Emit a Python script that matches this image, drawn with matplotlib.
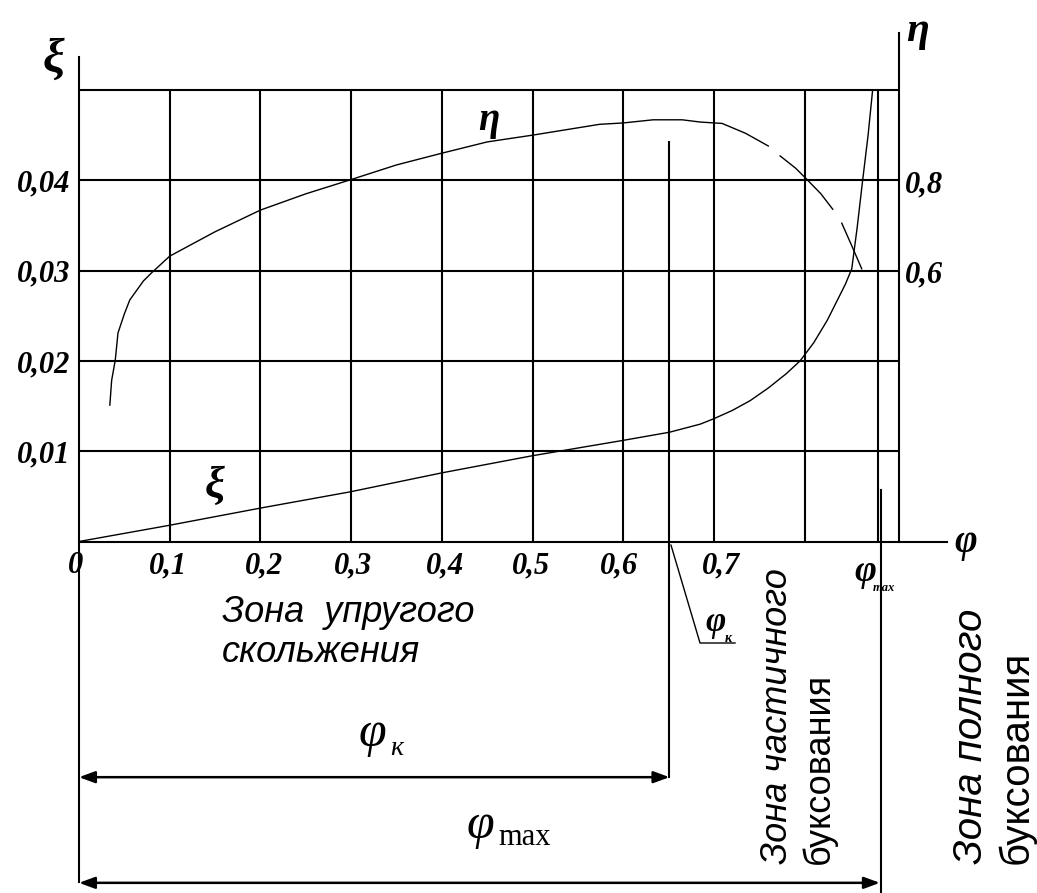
import numpy as np
import matplotlib
matplotlib.use("Agg")
import matplotlib.pyplot as plt

# ---------------- data ----------------
phi_ticks = [0.1, 0.2, 0.3, 0.4, 0.5, 0.6, 0.7, 0.8]
xi_ticks = [0.01, 0.02, 0.03, 0.04, 0.05]
xi_tick_labels = ["0,01", "0,02", "0,03", "0,04"]
eta_tick_values = [0.6, 0.8]
eta_tick_labels = ["0,6", "0,8"]
x_tick_labels = ["0", "0,1", "0,2", "0,3", "0,4", "0,5", "0,6", "0,7"]
x_tick_pos = [-0.004, 0.098, 0.204, 0.302, 0.403, 0.498, 0.595, 0.708]

phi_k = 0.651      # boundary of elastic slip zone
phi_max = 0.884    # boundary of full slipping
phi_grid_max = 0.881
phi_right_axis = 0.904

# slip coefficient xi(phi)
phi_xi = [0.0, 0.100, 0.200, 0.299, 0.400, 0.500, 0.600, 0.651, 0.685, 0.700,
          0.720, 0.740, 0.760, 0.780, 0.795, 0.810, 0.825, 0.836, 0.845, 0.852,
          0.858, 0.864, 0.870, 0.875]
xi = [0.0, 0.0018, 0.0037, 0.0055, 0.0076, 0.0095, 0.0112, 0.0121, 0.0130, 0.0136,
      0.0145, 0.0156, 0.0170, 0.0186, 0.0200, 0.0220, 0.0245, 0.0267, 0.0285, 0.0302,
      0.0348, 0.0400, 0.0450, 0.0500]

# efficiency eta(phi)  (NaN = gap in the drawn line)
phi_eta = [0.034, 0.036, 0.040, 0.043, 0.050, 0.056, 0.071, 0.080, 0.100, 0.150,
           0.200, 0.250, 0.299, 0.350, 0.400, 0.450, 0.500, 0.574, 0.600, 0.633,
           0.665, 0.685, 0.709, 0.735, 0.760, np.nan, 0.773, 0.790, 0.803, 0.818,
           0.831, np.nan, 0.841, 0.852, 0.863]
eta = [0.302, 0.357, 0.402, 0.462, 0.504, 0.535, 0.577, 0.595, 0.632, 0.686,
       0.734, 0.770, 0.801, 0.834, 0.860, 0.885, 0.900, 0.924, 0.927, 0.934,
       0.934, 0.929, 0.926, 0.904, 0.876, np.nan, 0.854, 0.827, 0.801, 0.770,
       0.736, np.nan, 0.705, 0.655, 0.604]

# ---------------- figure ----------------
fig = plt.figure(figsize=(10.37, 8.93), dpi=100)
ax = fig.add_axes([0, 0, 1, 1])
ax.set_xlim(-79 / 907, 958 / 907)
ax.set_ylim(-351.5 / 9030, 541.5 / 9030)
ax2 = ax.twinx()
ax2.set_ylim(-351.5 / 451.5, 541.5 / 451.5)
for a in (ax, ax2):
    a.set_axis_off()

k = "black"
glw = 1.5

# grid
ax.hlines(xi_ticks, 0, phi_right_axis, color=k, lw=glw)
ax.vlines(phi_ticks + [phi_grid_max], 0, 0.05, color=k, lw=glw)
# axes
ax.plot([0, 0], [-0.0377, 0.0537], color=k, lw=glw)               # left axis
ax.plot([phi_right_axis] * 2, [0, 0.0563], color=k, lw=glw)        # right axis
ax.plot([0, 0.957], [0, 0], color=k, lw=glw)                       # phi axis
# phi_k and phi_max markers
ax.plot([phi_k, phi_k], [-0.0261, 0.0442], color=k, lw=glw)
ax.plot([phi_max, phi_max], [-0.040, 0.0057], color=k, lw=glw)
# leader for small phi_k label
ax.plot([0.6527, 0.6847, 0.7233], [-0.0004, -0.01124, -0.01124], color=k, lw=1.0)

# curves
ax.plot(phi_xi, xi, color=k, lw=1.0)
ax2.plot(phi_eta, eta, color=k, lw=1.0)

# dimension arrows
arr = dict(arrowstyle="<|-|>,head_length=0.95,head_width=0.35", color=k, lw=1.8,
           shrinkA=0, shrinkB=0, mutation_scale=10)
ax.annotate("", xy=(0, -0.0261), xytext=(phi_k, -0.0261), arrowprops=arr)
ax.annotate("", xy=(0, -0.0378), xytext=(0.883, -0.0378), arrowprops=arr)

# tick labels
tfont = dict(family="Liberation Serif", weight="bold", style="italic", size=22)
for v, lab in zip(xi_ticks, xi_tick_labels):
    ax.text(-0.0099, v - 0.00122, lab, ha="right", va="baseline", **tfont)
for v, lab in zip(eta_tick_values, eta_tick_labels):
    ax2.text(0.911, v - 12 / 451.5, lab, ha="left", va="baseline", **tfont)
for x, lab in zip(x_tick_pos, x_tick_labels):
    ax.text(x, -0.00349, lab, ha="center", va="baseline", **tfont)

# symbols
sfont = dict(family="Liberation Serif", weight="bold", style="italic")
ax.text(-0.0276, 0.0533, "ξ", ha="center", va="center", size=35, **sfont)
ax.text(0.925, 0.0565, "η", ha="center", va="center", size=30, **sfont)
ax.text(0.150, 0.0062, "ξ", ha="center", va="center", size=32, **sfont)
ax.text(0.452, 0.0466, "η", ha="center", va="center", size=28, **sfont)
ax.text(0.978, -0.0001, "φ", ha="center", va="center", size=28, **sfont)
ax.text(0.8666, -0.0033, "φ", ha="center", va="center", size=27, **sfont)
ax.text(0.887, -0.0052, "max", ha="center", va="center", size=9, **sfont)
ax.text(0.702, -0.0090, "φ", ha="center", va="center", size=25, **sfont)
ax.text(0.716, -0.0107, "к", ha="center", va="center", size=10, **sfont)

# zone labels
zfont = dict(family="Liberation Sans", size=26)
zfont2 = dict(family="Liberation Sans", size=29)
ax.text(0.1577, -0.0089, "Зона  упругого", ha="left", va="baseline", style="italic", **zfont)
ax.text(0.1577, -0.0133, "скольжения", ha="left", va="baseline", style="italic", **zfont)
ax.text(0.751, -0.0357, "Зона частичного", ha="left", va="bottom", rotation=90,
        style="italic", **zfont)
ax.text(0.796, -0.0357, "буксования", ha="left", va="bottom", rotation=90, **zfont)
ax.text(0.962, -0.0357, "Зона полного", ha="left", va="bottom", rotation=90,
        style="italic", **zfont2)
ax.text(1.012, -0.0357, "буксования", ha="left", va="bottom", rotation=90, **zfont2)

# phi_k and phi_max dimension labels
pfont = dict(family="Liberation Serif", style="italic")
ax.text(0.323, -0.0226, "φ", ha="center", va="baseline", size=36, **pfont)
ax.text(0.343, -0.0236, "к", ha="left", va="baseline", size=20, **pfont)
ax.text(0.443, -0.0328, "φ", ha="center", va="baseline", size=36, **pfont)
ax.text(0.462, -0.0336, "max", ha="left", va="baseline", size=22,
        family="Liberation Serif")

fig.savefig("out.png", dpi=100, facecolor="white")
